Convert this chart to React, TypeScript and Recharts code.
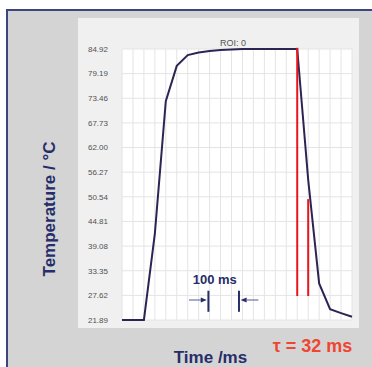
import React from 'react';
import { LineChart, Line, XAxis, YAxis, CartesianGrid, ReferenceLine } from 'recharts';

// frame times (ms), ~30 fps
const timesMs = [0, 33.3, 66.7, 100, 133.3, 166.7, 200, 233.3, 266.7, 300, 333.3, 366.7, 400, 433.3, 466.7, 500, 533.3, 566.7, 600, 633.3, 666.7, 700];
const temperatures = [21.89, 21.89, 21.89, 42.0, 72.8, 81.0, 83.5, 84.1, 84.45, 84.7, 84.8, 84.92, 84.92, 84.92, 84.92, 84.92, 84.92, 54.5, 30.4, 24.4, 23.5, 22.65];
const yTicks = [21.89, 27.62, 33.35, 39.08, 44.81, 50.54, 56.27, 62.0, 67.73, 73.46, 79.19, 84.92];
const xDomain = [0, 700];

// tau markers (red vertical lines)
const tauTimes = [533.3, 566.7];
const tauTops = [85.2, 50.0];
const tauBottoms = [27.47, 27.47];

// 100 ms scale marker
const scaleBarTimes = [263, 356];
const scaleBarTop = 28.7;
const scaleBarBottom = 23.8;
const scaleArrowY = 26.54;
const scaleArrowFrom = [204, 415];
const scaleArrowTo = [258, 361];

const data = timesMs.map((t, i) => ({ t, temp: temperatures[i] }));

const FONT = '"Liberation Sans", Arial, sans-serif';
const NAVY = '#262d6a';

const ArrowShape = (props: any) => {
  const { x1, y1, x2, y2 } = props;
  const dx = x2 - x1;
  const dy = y2 - y1;
  const len = Math.sqrt(dx * dx + dy * dy) || 1;
  const ux = dx / len;
  const uy = dy / len;
  const hl = 6;
  const hw = 2.6;
  const bx = x2 - ux * hl;
  const by = y2 - uy * hl;
  const p = `${x2},${y2} ${bx - uy * hw},${by + ux * hw} ${bx + uy * hw},${by - ux * hw}`;
  return (
    <g>
      <line x1={x1} y1={y1} x2={bx} y2={by} stroke="#7480ad" strokeWidth={1.3} />
      <polygon points={p} fill={NAVY} />
    </g>
  );
};

const verticalGen = (args: any) => {
  const scale = args && args.xAxis && args.xAxis.scale;
  try {
    if (typeof scale === 'function') return timesMs.map((t) => scale(t));
    if (scale && typeof scale.map === 'function') return timesMs.map((t) => scale.map(t));
  } catch (e) {
    // fall through
  }
  const off = (args && args.offset) || { left: 82, width: 270 };
  return timesMs.map((t) => off.left + ((t - xDomain[0]) / (xDomain[1] - xDomain[0])) * off.width);
};

export default function App() {
  return (
    <div style={{ position: 'absolute', left: 0, top: 0, width: 372, height: 367, background: '#ffffff', overflow: 'hidden' }}>
      <div style={{ position: 'absolute', left: 6, top: 9, width: 400, height: 400, background: '#d4d4d4', borderLeft: '2px solid #3d4580', borderTop: '2px solid #3d4580' }} />
      <div style={{ position: 'absolute', left: 78, top: 18, width: 281, height: 310, background: '#f0f0f0' }} />
      <div style={{ position: 'absolute', left: 0, top: 0 }}>
        <LineChart width={372} height={367} data={data} margin={{ top: 49, right: 20, bottom: 47, left: 82 }}>
          <CartesianGrid stroke="#e4e4e4" fill="#ffffff" strokeWidth={1} verticalCoordinatesGenerator={verticalGen} />
          <XAxis dataKey="t" type="number" domain={xDomain} ticks={timesMs} tick={false} axisLine={false} tickLine={false} height={0} />
          <YAxis
            type="number"
            domain={[21.89, 84.92]}
            ticks={yTicks}
            interval={0}
            width={40}
            axisLine={false}
            tickLine={false}
            tickSize={0}
            tickMargin={14}
            tickFormatter={(v: number) => v.toFixed(2)}
            tick={{ fontSize: 8, fill: '#505050', fontFamily: FONT }}
          />
          <Line type="linear" dataKey="temp" stroke="#2e2454" strokeWidth={2} dot={false} isAnimationActive={false} />
          {tauTimes.map((t, i) => (
            <ReferenceLine
              key={'tau' + i}
              segment={[{ x: t, y: tauTops[i] }, { x: t, y: tauBottoms[i] }]}
              stroke="#e8151d"
              strokeWidth={2}
              ifOverflow="visible"
            />
          ))}
          {scaleBarTimes.map((t, i) => (
            <ReferenceLine
              key={'bar' + i}
              segment={[{ x: t, y: scaleBarTop }, { x: t, y: scaleBarBottom }]}
              stroke={NAVY}
              strokeWidth={2}
            />
          ))}
          {scaleArrowFrom.map((t, i) => (
            <ReferenceLine
              key={'arr' + i}
              segment={[{ x: t, y: scaleArrowY }, { x: scaleArrowTo[i], y: scaleArrowY }]}
              shape={ArrowShape}
            />
          ))}
        </LineChart>
      </div>
      <svg width={372} height={367} style={{ position: 'absolute', left: 0, top: 0, pointerEvents: 'none' }}>
        <text x={233} y={45.5} textAnchor="middle" fontSize={9} fill="#555555" fontFamily={FONT}>ROI: 0</text>
        <text
          x={49}
          y={209}
          transform="rotate(-90 49 209)"
          textAnchor="middle"
          dominantBaseline="central"
          fontSize={17}
          fontWeight="bold"
          fill={NAVY}
          fontFamily={FONT}
        >
          Temperature / °C
        </text>
        <text x={210.5} y={363} textAnchor="middle" fontSize={17} fontWeight="bold" fill={NAVY} fontFamily={FONT}>Time /ms</text>
        <text x={272.7} y={351.5} fontSize={18} fontWeight="bold" fill="#ee4630" fontFamily={FONT}>τ = 32 ms</text>
        <text x={192.7} y={284} fontSize={13} fontWeight="bold" fill={NAVY} fontFamily={FONT}>100 ms</text>
      </svg>
    </div>
  );
}
